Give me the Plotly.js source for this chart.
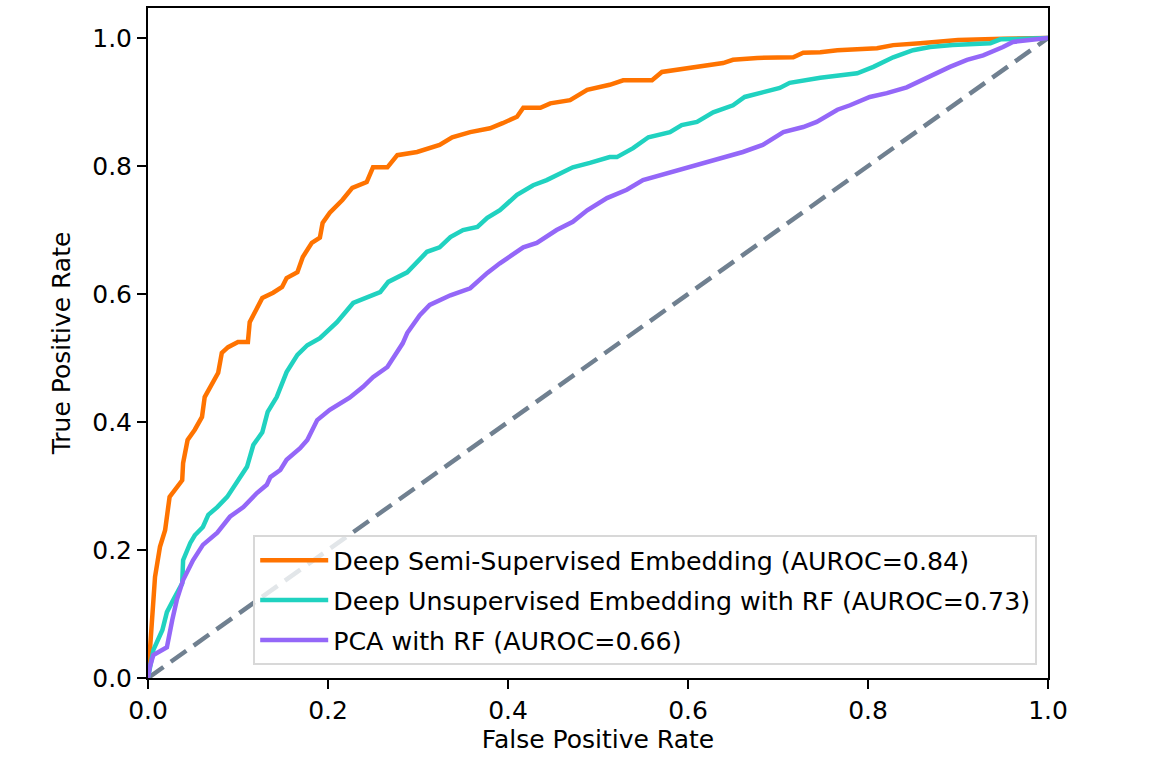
<!DOCTYPE html>
<html>
<head>
<meta charset="utf-8">
<script src="https://cdn.plot.ly/plotly-3.0.1.min.js"></script>
<style>html,body{margin:0;padding:0;background:#fff;}#chart{width:1164px;height:772px;}</style>
</head>
<body>
<div id="chart"></div>
<script>
// Deep Semi-Supervised Embedding (AUROC=0.84)
const semiFpr = [0, 0.001, 0.0056, 0.0078, 0.0133, 0.019, 0.024, 0.032, 0.038, 0.039, 0.044, 0.052, 0.060, 0.063, 0.071, 0.078, 0.082, 0.089, 0.100, 0.111, 0.113, 0.119, 0.127, 0.139, 0.149, 0.154, 0.166, 0.172, 0.182, 0.191, 0.194, 0.202, 0.216, 0.227, 0.243, 0.250, 0.266, 0.277, 0.299, 0.324, 0.338, 0.358, 0.380, 0.394, 0.410, 0.417, 0.436, 0.447, 0.469, 0.488, 0.513, 0.528, 0.560, 0.571, 0.602, 0.639, 0.650, 0.677, 0.717, 0.728, 0.747, 0.766, 0.810, 0.828, 0.858, 0.891, 0.900, 0.950, 1.0];
const semiTpr = [0, 0.023, 0.127, 0.158, 0.205, 0.231, 0.283, 0.298, 0.309, 0.336, 0.372, 0.388, 0.408, 0.439, 0.461, 0.477, 0.508, 0.517, 0.525, 0.525, 0.556, 0.572, 0.594, 0.602, 0.611, 0.625, 0.634, 0.658, 0.680, 0.688, 0.711, 0.727, 0.747, 0.766, 0.775, 0.798, 0.798, 0.817, 0.822, 0.833, 0.845, 0.853, 0.859, 0.867, 0.877, 0.891, 0.891, 0.898, 0.903, 0.919, 0.927, 0.934, 0.934, 0.947, 0.953, 0.961, 0.966, 0.969, 0.970, 0.977, 0.978, 0.981, 0.984, 0.989, 0.992, 0.995, 0.997, 0.999, 1.0];

// Deep Unsupervised Embedding with RF (AUROC=0.73)
const unsupFpr = [0, 0.006, 0.016, 0.021, 0.028, 0.038, 0.039, 0.047, 0.052, 0.061, 0.067, 0.077, 0.088, 0.099, 0.110, 0.117, 0.127, 0.133, 0.143, 0.154, 0.166, 0.177, 0.191, 0.210, 0.228, 0.258, 0.267, 0.288, 0.310, 0.324, 0.336, 0.350, 0.366, 0.377, 0.391, 0.410, 0.428, 0.443, 0.458, 0.472, 0.491, 0.513, 0.521, 0.539, 0.556, 0.580, 0.593, 0.610, 0.628, 0.650, 0.663, 0.683, 0.702, 0.713, 0.747, 0.788, 0.806, 0.828, 0.850, 0.869, 0.894, 0.936, 0.947, 1.0];
const unsupTpr = [0, 0.044, 0.075, 0.103, 0.122, 0.148, 0.184, 0.211, 0.223, 0.236, 0.255, 0.267, 0.283, 0.305, 0.330, 0.364, 0.384, 0.416, 0.439, 0.478, 0.505, 0.520, 0.531, 0.556, 0.586, 0.603, 0.619, 0.634, 0.666, 0.673, 0.689, 0.700, 0.705, 0.719, 0.731, 0.755, 0.770, 0.778, 0.789, 0.798, 0.805, 0.814, 0.814, 0.828, 0.845, 0.853, 0.864, 0.869, 0.884, 0.895, 0.908, 0.916, 0.922, 0.930, 0.938, 0.945, 0.955, 0.970, 0.981, 0.986, 0.989, 0.992, 0.998, 1.0];

// PCA with RF (AUROC=0.66)
const pcaFpr = [0, 0.002, 0.006, 0.021, 0.027, 0.032, 0.039, 0.050, 0.061, 0.077, 0.091, 0.106, 0.121, 0.132, 0.136, 0.147, 0.154, 0.169, 0.177, 0.188, 0.202, 0.224, 0.239, 0.250, 0.266, 0.277, 0.283, 0.288, 0.302, 0.313, 0.336, 0.358, 0.377, 0.391, 0.417, 0.432, 0.454, 0.472, 0.488, 0.510, 0.532, 0.550, 0.577, 0.602, 0.639, 0.661, 0.683, 0.706, 0.728, 0.743, 0.766, 0.780, 0.802, 0.821, 0.843, 0.866, 0.891, 0.910, 0.928, 0.950, 0.961, 1.0];
const pcaTpr = [0, 0.017, 0.036, 0.048, 0.091, 0.122, 0.153, 0.184, 0.208, 0.227, 0.252, 0.267, 0.289, 0.302, 0.314, 0.325, 0.341, 0.359, 0.372, 0.403, 0.419, 0.438, 0.455, 0.470, 0.486, 0.508, 0.523, 0.539, 0.567, 0.583, 0.598, 0.609, 0.633, 0.648, 0.673, 0.680, 0.700, 0.713, 0.731, 0.750, 0.763, 0.778, 0.789, 0.798, 0.814, 0.822, 0.833, 0.853, 0.861, 0.869, 0.888, 0.895, 0.908, 0.914, 0.923, 0.939, 0.955, 0.966, 0.973, 0.986, 0.994, 1.0];

// Chance diagonal
const chanceX = [0, 1];
const chanceY = [0, 1];

const seriesNames = [
  'Deep Semi-Supervised Embedding (AUROC=0.84)',
  'Deep Unsupervised Embedding with RF (AUROC=0.73)',
  'PCA with RF (AUROC=0.66)'
];
const xTicks = [0, 0.2, 0.4, 0.6, 0.8, 1.0];
const yTicks = [0, 0.2, 0.4, 0.6, 0.8, 1.0];
const xTickText = ['0.0', '0.2', '0.4', '0.6', '0.8', '1.0'];
const yTickText = ['0.0', '0.2', '0.4', '0.6', '0.8', '1.0'];

const FONT = 'DejaVu Sans, sans-serif';
const LW = 4.5;

const traces = [
  {x: chanceX, y: chanceY, mode: 'lines', showlegend: false, hoverinfo: 'skip',
   line: {color: '#708090', width: LW, dash: '19px,9px'}},
  {x: semiFpr, y: semiTpr, mode: 'lines', name: seriesNames[0], legendgroup: 'a',
   line: {color: '#ff7300', width: LW, shape: 'linear'}},
  {x: unsupFpr, y: unsupTpr, mode: 'lines', name: seriesNames[1], legendgroup: 'b',
   line: {color: '#20d2c0', width: LW}},
  {x: pcaFpr, y: pcaTpr, mode: 'lines', name: seriesNames[2], legendgroup: 'c',
   line: {color: '#9467f8', width: LW}}
];

const axisCommon = {
  showgrid: false, zeroline: false, showline: true, mirror: true,
  linecolor: '#000', linewidth: 2, ticks: 'outside', ticklen: 9, tickwidth: 2,
  tickcolor: '#000', tickfont: {family: FONT, size: 25, color: '#000'}
};

const layout = {
  width: 1164, height: 772,
  margin: {l: 148, r: 116, t: 8, b: 94, pad: 0},
  paper_bgcolor: '#fff', plot_bgcolor: '#fff',
  font: {family: FONT, size: 25, color: '#000'},
  xaxis: Object.assign({}, axisCommon, {
    range: [0, 1], tickvals: xTicks, ticktext: xTickText,
    title: {text: 'False Positive Rate', font: {family: FONT, size: 25, color: '#000'}, standoff: 6}
  }),
  yaxis: Object.assign({}, axisCommon, {
    range: [0, 1.047], tickvals: yTicks, ticktext: yTickText,
    title: {text: 'True Positive Rate', font: {family: FONT, size: 25, color: '#000'}, standoff: 14}
  }),
  legend: {
    x: 0.988, y: 0.019, xanchor: 'right', yanchor: 'bottom',
    bgcolor: 'rgba(255,255,255,0.8)', bordercolor: '#d8d8d8', borderwidth: 2,
    font: {family: FONT, size: 25.3, color: '#000'},
    traceorder: 'grouped', tracegroupgap: 4, itemwidth: 68
  },
  showlegend: true
};

Plotly.newPlot('chart', traces, layout, {staticPlot: true, displayModeBar: false});
</script>
</body>
</html>
